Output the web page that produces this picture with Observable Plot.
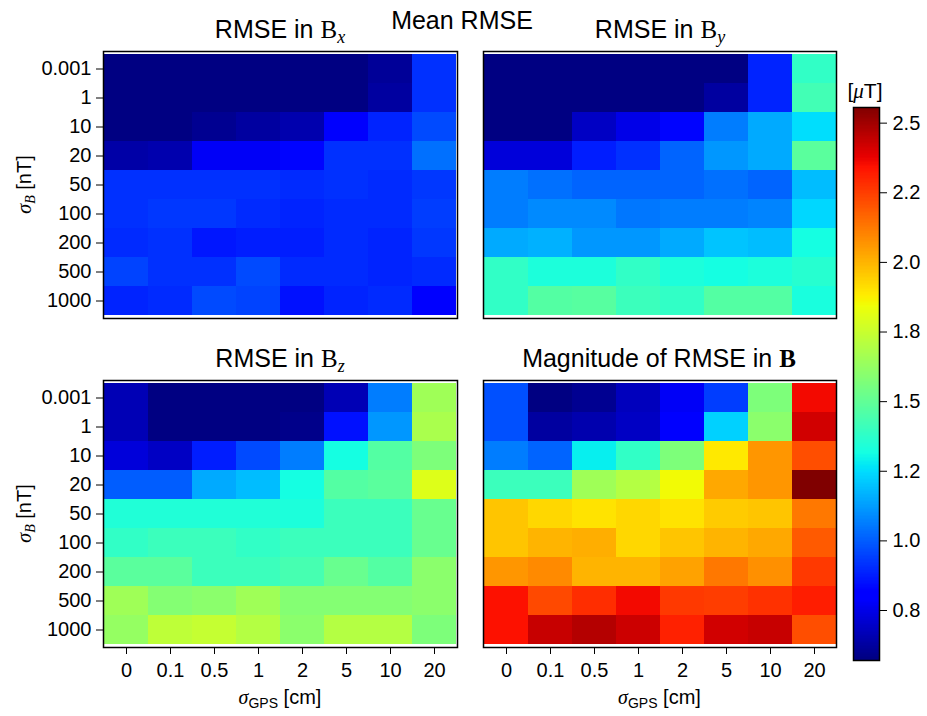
<!DOCTYPE html>
<html><head><meta charset="utf-8">
<script src="https://cdn.jsdelivr.net/npm/d3@7"></script>
<script src="https://cdn.jsdelivr.net/npm/@observablehq/plot@0.6"></script>
<style>
body{margin:0;background:#fff;}
#chart{position:relative;width:927px;height:716px;font-family:"Liberation Sans",Arial,sans-serif;}
#chart svg{position:absolute;left:0;top:0;}
</style></head><body><div id="chart"></div>
<script>
// ---- data ----
const sigmaGPS = ["0","0.1","0.5","1","2","5","10","20"];          // columns [cm]
const sigmaB   = ["0.001","1","10","20","50","100","200","500","1000"]; // rows [nT]

const rmseBx = [
[0.66,0.66,0.66,0.66,0.66,0.66,0.69,0.93],
[0.66,0.66,0.66,0.66,0.66,0.66,0.70,0.93],
[0.66,0.66,0.68,0.70,0.72,0.83,0.91,0.97],
[0.71,0.72,0.82,0.82,0.86,0.93,0.93,1.03],
[0.93,0.93,0.93,0.93,0.92,0.93,0.92,0.94],
[0.93,0.94,0.94,0.92,0.91,0.92,0.92,0.95],
[0.92,0.93,0.89,0.90,0.90,0.92,0.91,0.94],
[0.96,0.93,0.93,0.97,0.92,0.92,0.91,0.92],
[0.91,0.92,0.97,0.96,0.88,0.91,0.92,0.85]];

const rmseBy = [
[0.66,0.66,0.66,0.66,0.66,0.66,0.91,1.36],
[0.66,0.66,0.66,0.66,0.66,0.70,0.91,1.41],
[0.66,0.66,0.75,0.80,0.86,1.05,1.12,1.20],
[0.78,0.78,0.90,0.93,1.01,1.09,1.12,1.48],
[1.05,1.03,1.01,1.01,1.01,1.03,1.01,1.15],
[1.05,1.07,1.07,1.04,1.05,1.05,1.06,1.19],
[1.12,1.13,1.09,1.09,1.12,1.16,1.15,1.28],
[1.36,1.30,1.30,1.36,1.30,1.28,1.30,1.33],
[1.36,1.46,1.47,1.39,1.36,1.46,1.46,1.29]];

const rmseBz = [
[0.73,0.66,0.66,0.66,0.66,0.73,1.05,1.68],
[0.73,0.66,0.66,0.66,0.67,0.88,1.09,1.71],
[0.78,0.75,0.90,0.97,1.05,1.28,1.46,1.58],
[1.00,1.00,1.12,1.15,1.28,1.46,1.48,1.84],
[1.31,1.31,1.31,1.31,1.30,1.39,1.39,1.52],
[1.36,1.39,1.39,1.36,1.39,1.39,1.39,1.52],
[1.48,1.48,1.39,1.39,1.42,1.52,1.46,1.62],
[1.68,1.60,1.62,1.68,1.60,1.60,1.60,1.62],
[1.65,1.77,1.79,1.74,1.62,1.74,1.74,1.58]];

const rmseMag = [
[0.98,0.66,0.68,0.74,0.82,0.95,1.58,2.33],
[0.98,0.70,0.72,0.75,0.85,1.18,1.62,2.40],
[1.05,1.01,1.24,1.36,1.58,1.91,2.05,2.17],
[1.39,1.39,1.68,1.74,1.88,2.02,2.05,2.57],
[1.97,1.94,1.92,1.94,1.92,1.96,1.97,2.10],
[1.97,2.00,2.01,1.94,1.97,2.00,2.02,2.15],
[2.05,2.07,2.00,2.00,2.03,2.10,2.06,2.21],
[2.31,2.18,2.24,2.33,2.21,2.20,2.23,2.28],
[2.31,2.42,2.46,2.41,2.27,2.40,2.42,2.17]];

const colorbarTicks = [0.8,1.0,1.2,1.5,1.8,2.0,2.2,2.5];
const colorbarMin = 0.656, colorbarMax = 2.567;

// ---- layout / style ----
const W = 927, H = 716;
const cbFirstTick = 0.0904, cbTickStep = 0.1259; // fraction of bar height (ticks evenly spaced on bar)
const SANS = "'Liberation Sans', Arial, sans-serif";
const SERIF = "'Liberation Serif', 'DejaVu Serif', serif";

function jet(t){
  t = Math.max(0, Math.min(1, t));
  const seg = pts => { for (let i = 1; i < pts.length; i++) { if (t <= pts[i][0]) { const [x0,y0] = pts[i-1], [x1,y1] = pts[i]; return y0 + (y1-y0)*(t-x0)/(x1-x0); } } return pts[pts.length-1][1]; };
  const r = seg([[0,0],[0.35,0],[0.66,1],[0.89,1],[1,0.5]]);
  const g = seg([[0,0],[0.125,0],[0.375,1],[0.64,1],[0.91,0],[1,0]]);
  const b = seg([[0,0.5],[0.11,1],[0.34,1],[0.65,0],[1,0]]);
  return `rgb(${Math.round(r*255)},${Math.round(g*255)},${Math.round(b*255)})`;
}

const cbDomain = [colorbarMin, ...colorbarTicks, colorbarMax];
const cbT = [0, ...colorbarTicks.map((_, i) => cbFirstTick + i*cbTickStep), 1];
const colorScale = {type: "linear", domain: cbDomain, range: cbT, interpolate: jet};

const chart = document.getElementById("chart");

function panel(values, f, showX, showY){
  const data = [];
  sigmaB.forEach((b, i) => sigmaGPS.forEach((g, j) => data.push({b, g, v: values[i][j]})));
  return Plot.plot({
    width: W, height: H,
    marginLeft: f.x0, marginRight: W - f.x1, marginTop: f.y0, marginBottom: H - f.y1,
    style: {background: "none", fontFamily: SANS, fontSize: "20px", color: "#000", overflow: "visible"},
    x: {domain: sigmaGPS, padding: 0, axis: showX ? "bottom" : null, tickSize: 7, tickPadding: 8, label: null},
    y: {domain: sigmaB, padding: 0, axis: showY ? "left" : null, tickSize: 7, tickPadding: 5, label: null},
    color: colorScale,
    marks: [
      Plot.cell(data, {x: "g", y: "b", fill: "v", inset: 0, shapeRendering: "crispEdges"}),
      Plot.frame({stroke: "#000", strokeWidth: 1.5})
    ]
  });
}

const frames = {
  bx:  {x0: 103, x1: 457, y0: 51,  y1: 318},
  by:  {x0: 483, x1: 836, y0: 51,  y1: 318},
  bz:  {x0: 103, x1: 457, y0: 380, y1: 647},
  mag: {x0: 483, x1: 836, y0: 380, y1: 647}
};

chart.append(panel(rmseBx, frames.bx, false, true));
chart.append(panel(rmseBy, frames.by, false, false));
chart.append(panel(rmseBz, frames.bz, true, true));
chart.append(panel(rmseMag, frames.mag, true, false));

// colorbar: its vertical axis is the position along the bar (0..1);
// each slice is coloured through the shared colour scale.
const cb = {x0: 853, x1: 879, y0: 107, y1: 660};
const tToValue = d3.scaleLinear().domain(cbT).range(cbDomain);
const tickAt = new Map(colorbarTicks.map((v, i) => [+cbT[i + 1].toFixed(6), v]));
const slices = d3.range(400).map(i => ({t0: i/400, t1: (i+1)/400}));
chart.append(Plot.plot({
  width: W, height: H,
  marginLeft: cb.x0, marginRight: W - cb.x1, marginTop: cb.y0, marginBottom: H - cb.y1,
  style: {background: "none", fontFamily: SANS, fontSize: "20px", color: "#000", overflow: "visible"},
  x: {domain: [0, 1], axis: null},
  y: {domain: [0, 1], axis: "right",
      ticks: cbT.slice(1, -1).map(t => +t.toFixed(6)),
      tickFormat: t => tickAt.get(+(+t).toFixed(6)).toFixed(1),
      tickSize: 7, tickPadding: 6, label: null},
  color: colorScale,
  marks: [
    Plot.rect(slices, {x1: () => 0, x2: () => 1, y1: "t0", y2: "t1",
      fill: d => tToValue((d.t0 + d.t1)/2), shapeRendering: "crispEdges"}),
    Plot.frame({stroke: "#000", strokeWidth: 1.5})
  ]
}));

// ---- text overlay ----
const ov = d3.select(chart).append("svg").attr("width", W).attr("height", H)
  .style("font-family", SANS).style("overflow", "visible");

function label(x, y, parts, size, rotate){
  const t = ov.append("text").attr("text-anchor", "middle").attr("font-size", size).attr("fill", "#000")
    .attr("transform", `translate(${x},${y})` + (rotate ? ` rotate(${rotate})` : ""));
  for (const p of parts) {
    const s = t.append("tspan").text(p.text);
    if (p.family) s.attr("font-family", p.family);
    if (p.italic) s.attr("font-style", "italic");
    if (p.bold) s.attr("font-weight", "bold");
    if (p.size) s.attr("font-size", p.size);
    if (p.dy) s.attr("dy", p.dy);
  }
  return t;
}

label(462, 29, [{text: "Mean RMSE"}], 25);
label(280, 38, [{text: "RMSE in "}, {text: "B", family: SERIF}, {text: "x", family: SERIF, italic: true, size: 18, dy: 5}], 25);
label(660, 38, [{text: "RMSE in "}, {text: "B", family: SERIF}, {text: "y", family: SERIF, italic: true, size: 18, dy: 5}], 25);
label(280, 367, [{text: "RMSE in "}, {text: "B", family: SERIF}, {text: "z", family: SERIF, italic: true, size: 18, dy: 5}], 25);
label(659, 367, [{text: "Magnitude of RMSE in "}, {text: "B", family: SERIF, bold: true}], 25);

for (const cy of [184.5, 513.5]) {
  label(31, cy, [{text: "σ", family: SERIF, italic: true}, {text: "B", family: SERIF, italic: true, size: 14, dy: 4}, {text: " [nT]", dy: -4}], 20, -90);
}
for (const cx of [280, 659.5]) {
  label(cx, 704, [{text: "σ", family: SERIF, italic: true}, {text: "GPS", size: 14, dy: 4}, {text: " [cm]", dy: -4}], 20);
}
label(865, 98, [{text: "["}, {text: "μ", family: SERIF, italic: true}, {text: "T]"}], 21);
</script></body></html>
